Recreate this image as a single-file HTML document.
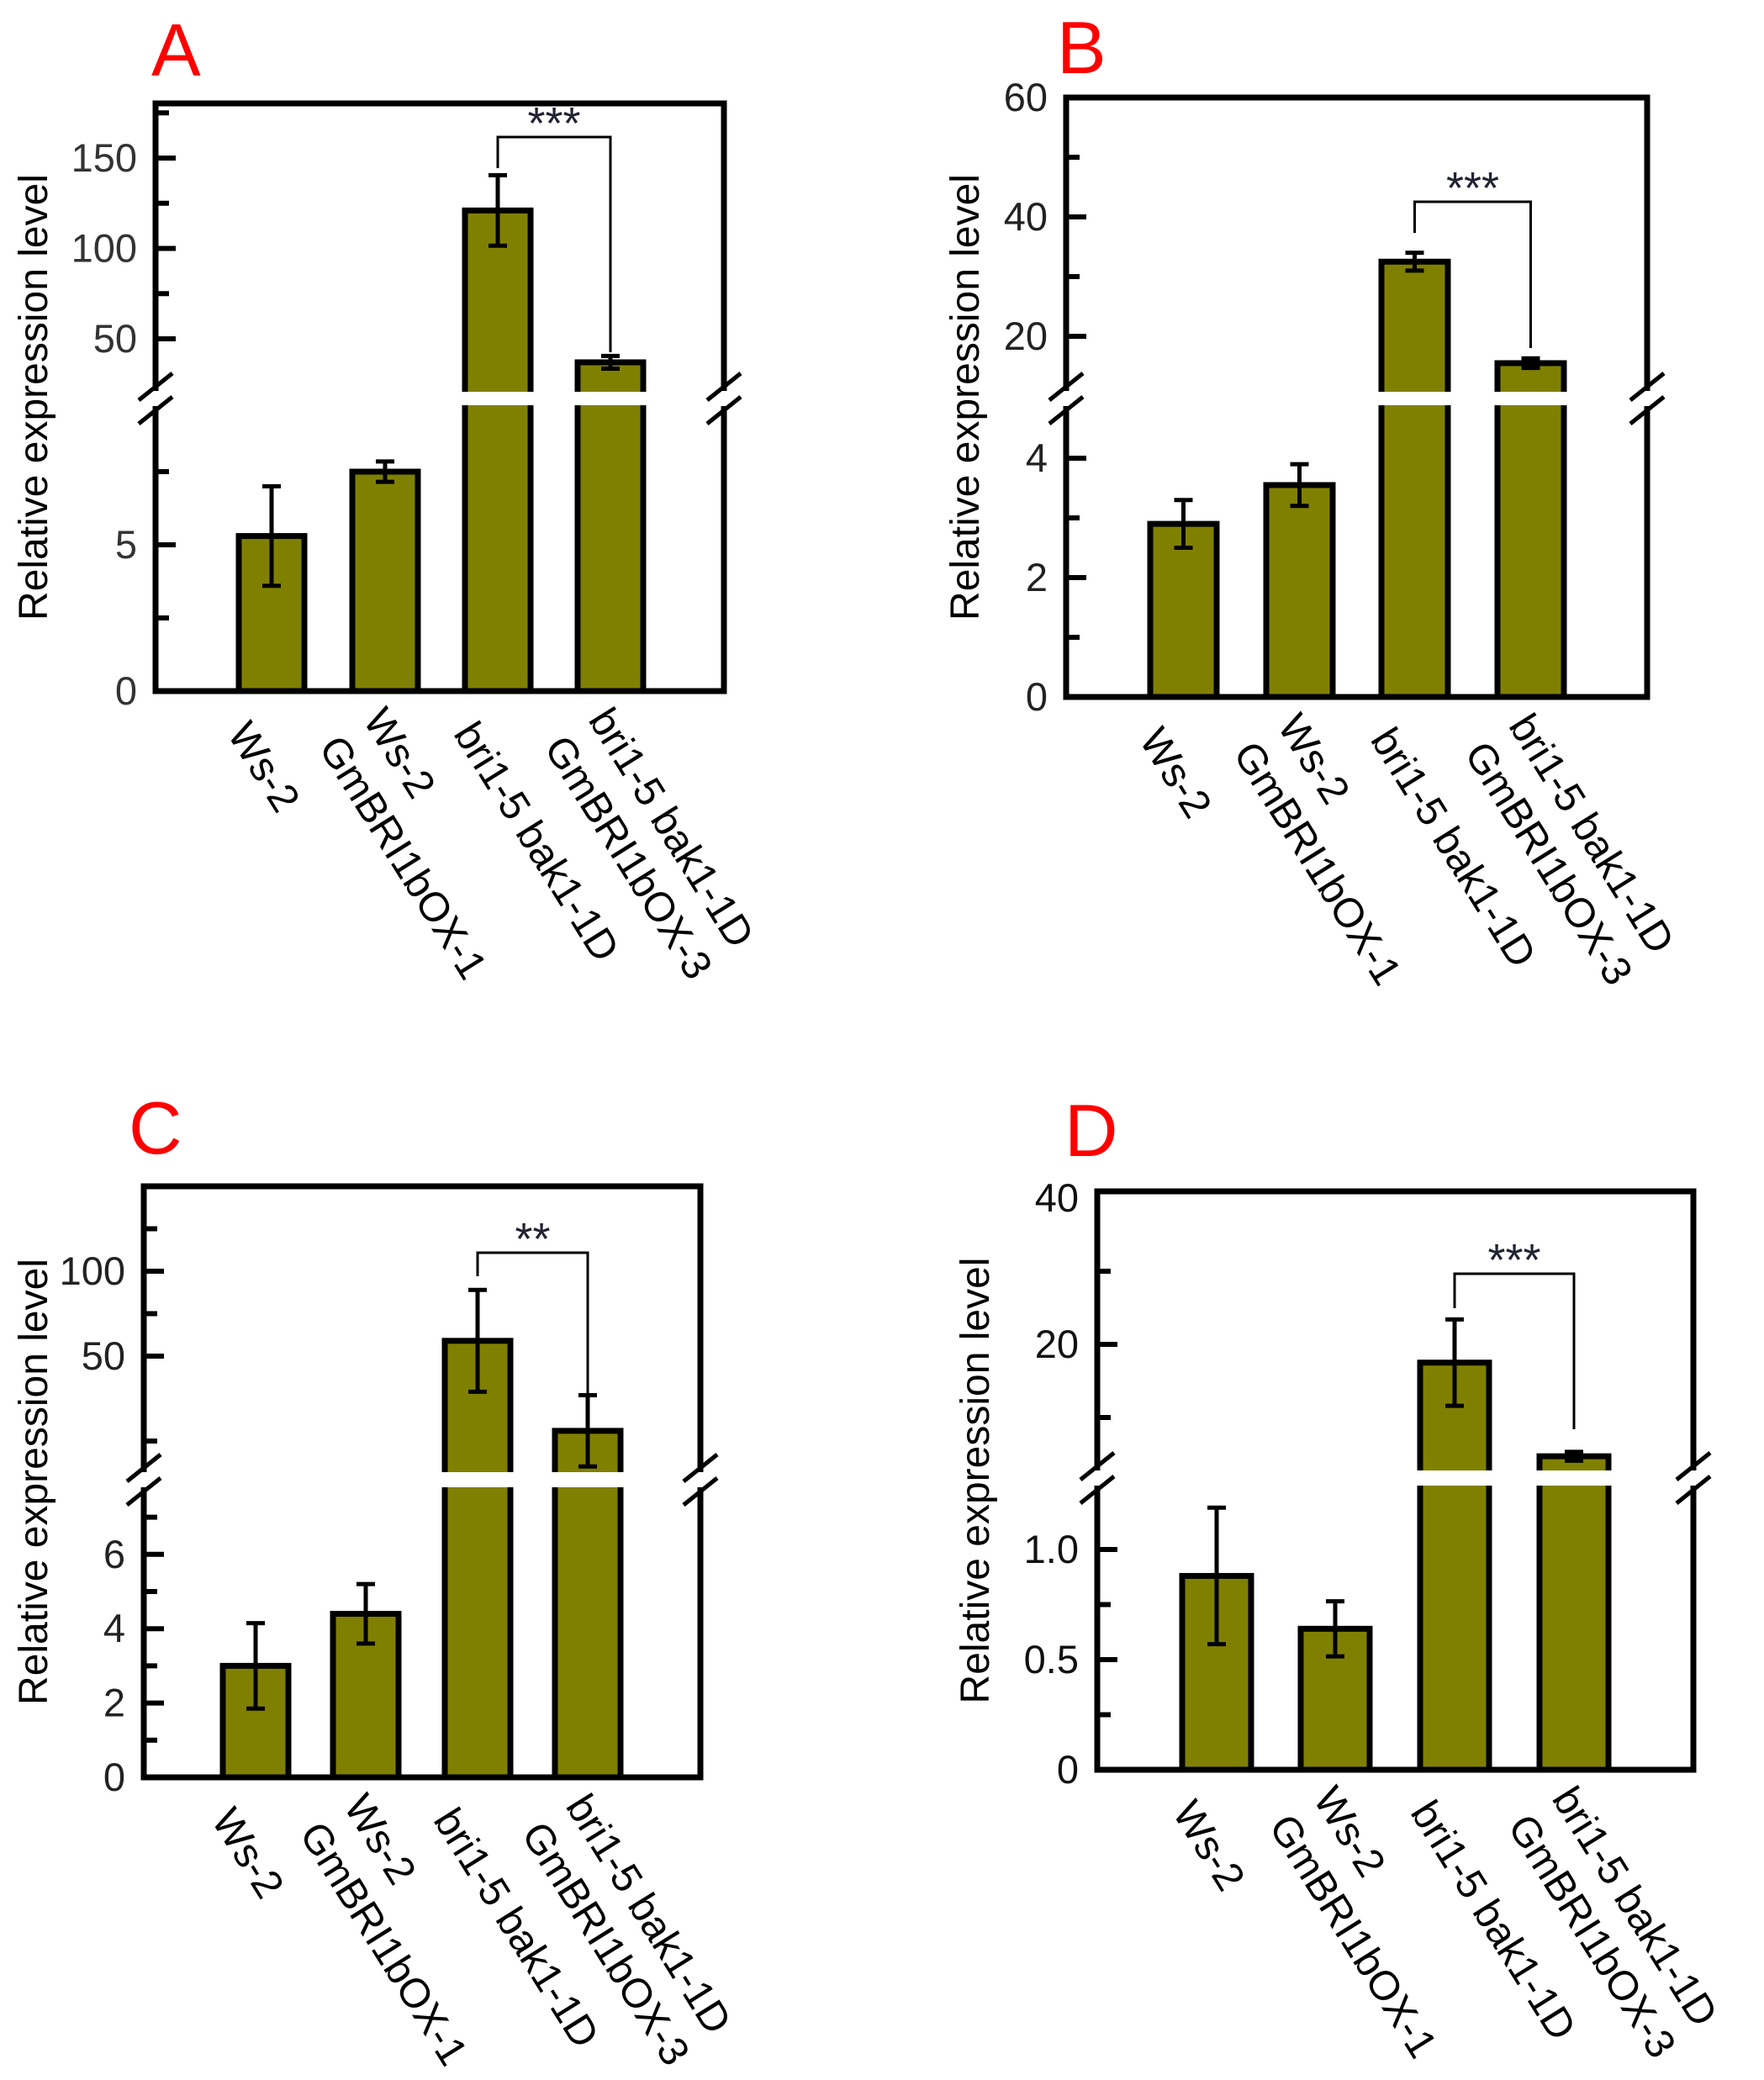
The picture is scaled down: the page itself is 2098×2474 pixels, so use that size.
<!DOCTYPE html>
<html><head><meta charset="utf-8">
<style>
html,body{margin:0;padding:0;background:#fff;}
svg{display:block;font-family:"Liberation Sans",Arial,sans-serif;}
</style></head>
<body>
<svg id="fig" width="2098" height="2474" viewBox="0 0 2098 2474" xmlns="http://www.w3.org/2000/svg"></svg>
<script>
const categories = [["Ws-2"],["Ws-2","GmBRI1bOX-1"],["bri1-5 bak1-1D"],["bri1-5 bak1-1D","GmBRI1bOX-3"]];
// Panel A
const valuesA = [5.3, 7.5, 121, 37];
const errorsA = [1.7, 0.35, 19.5, 3.5];
const lowTicksA = [0, 5]; const lowMinorA = [2.5, 7.5];
const upTicksA = [50, 100, 150]; const upMinorA = [75, 125, 175];
// Panel B
const valuesB = [2.9, 3.55, 32.5, 15.5];
const errorsB = [0.4, 0.35, 1.5, 0.8];
const lowTicksB = [0, 2, 4]; const lowMinorB = [1, 3];
const upTicksB = [20, 40, 60]; const upMinorB = [30, 50];
// Panel C
const valuesC = [3.0, 4.4, 59, 6];
const errorsC = [1.15, 0.8, 30, 21];
const lowTicksC = [0, 2, 4, 6]; const lowMinorC = [1, 3, 5, 7];
const upTicksC = [50, 100]; const upMinorC = [0, 75, 125];
// Panel D
const valuesD = [0.88, 0.64, 17.5, 4.7];
const errorsD = [0.31, 0.125, 5.9, 0.6];
const lowTicksD = [0, 0.5, 1.0]; const lowMinorD = [0.25, 0.75];
const upTicksD = [20, 40]; const upMinorD = [10, 30];
const lowLabelsD = ["0", "0.5", "1.0"];

const NS = "http://www.w3.org/2000/svg";
const svg = document.getElementById("fig");
function mk(tag, attrs, parent) {
  const e = document.createElementNS(NS, tag);
  for (const k in attrs) e.setAttribute(k, attrs[k]);
  (parent || svg).appendChild(e);
  return e;
}

const panels = [
  {id:"a", letter:"A", lx:180, ly:90, vals:valuesA, errs:errorsA, L:185, R:861, T:123, B:822,
   y0:822, k:34.8, uref:50, upx:403, uk:2.15, brk:474, gapT:466, gapB:482,
   lt:lowTicksA, lm:lowMinorA, ut:upTicksA, um:upMinorA, bars:[281,416,550,684], bw:84,
   brY:163, brL:200, brR:419, titleX:40, tickCol:"#333"},
  {id:"b", letter:"B", lx:1257, ly:87, vals:valuesB, errs:errorsB, L:1268, R:1959, T:116, B:829,
   y0:829, k:71, uref:20, upx:400, uk:7.1, brk:474, gapT:466, gapB:482,
   lt:lowTicksB, lm:lowMinorB, ut:upTicksB, um:upMinorB, bars:[1365,1503,1640,1778], bw:85,
   brY:240, brL:277, brR:414, titleX:1148, tickCol:"#222"},
  {id:"c", letter:"C", lx:153, ly:1372, vals:valuesC, errs:errorsC, L:171, R:833, T:1411, B:2114,
   y0:2114, k:44.2, uref:50, upx:1613, uk:2.02, brk:1760, gapT:1751, gapB:1769,
   lt:lowTicksC, lm:lowMinorC, ut:upTicksC, um:upMinorC, bars:[262,393,526,657], bw:84,
   brY:1490, brL:1518, brR:1659, titleX:40, tickCol:"#222"},
  {id:"d", letter:"D", lx:1266, ly:1375, vals:valuesD, errs:errorsD, L:1305, R:2014, T:1417, B:2105,
   y0:2105, k:262, uref:20, upx:1599, uk:8.7, brk:1758, gapT:1749, gapB:1767,
   lt:lowTicksD, lm:lowMinorD, ut:upTicksD, um:upMinorD, ll:lowLabelsD, bars:[1403,1544,1686,1828], bw:88,
   brY:1515, brL:1556, brR:1700, titleX:1160, tickCol:"#111"}
];

panels.forEach(p => {
  const g = mk("g", {});
  
  
  const yLow = v => p.y0 - v * p.k;
  const yUp = v => p.upx - (v - p.uref) * p.uk;
  const isHigh = i => i >= 2;

  const letter = mk("text", {x:p.lx, y:p.ly, fill:"#ff0000", "font-size":88}, g);
  letter.textContent = p.letter;
  
  

  p.vals.forEach((v, i) => {
    const x = p.bars[i];
    const top = isHigh(i) ? yUp(v) : yLow(v);
    const bar = mk("rect", {x:x+3, y:top, width:p.bw-6, height:p.B-top, fill:"#808000", stroke:"#000", "stroke-width":7}, g);
    
    
    if (isHigh(i)) {
      const gap = mk("rect", {x:x-2, y:p.gapT, width:p.bw+4, height:p.gapB-p.gapT, fill:"#fff"}, g);
      
      
    }
    const cx = x + p.bw/2;
    const f = isHigh(i) ? yUp : yLow;
    let yt = f(v + p.errs[i]), yb = f(v - p.errs[i]);
    const eg = mk("g", {stroke:"#000", "stroke-width":5}, g);
    
    
    const lim = isHigh(i) ? p.gapT : p.B;
    const ybc = Math.min(yb, lim);
    mk("line", {x1:cx, y1:yt, x2:cx, y2:ybc}, eg);
    mk("line", {x1:cx-11, y1:yt, x2:cx+11, y2:yt}, eg);
    if (yb <= lim) mk("line", {x1:cx-11, y1:yb, x2:cx+11, y2:yb}, eg);
  });

  const fr = mk("rect", {x:p.L, y:p.T, width:p.R-p.L, height:p.B-p.T, fill:"none", stroke:"#000", "stroke-width":7}, g);
  
  

  const tg = mk("g", {stroke:"#000", "stroke-width":6}, g);
  
  
  const lab = (y, txt) => {
    const t = mk("text", {x:p.L-22, y:y+16, "text-anchor":"end", "font-size":47, fill:p.tickCol}, g);
    t.textContent = txt;
    
    
  };
  p.lt.forEach((v, j) => { const y = yLow(v); if (v>0) mk("line", {x1:p.L, y1:y, x2:p.L+24, y2:y}, tg); lab(y, p.ll ? p.ll[j] : String(v)); });
  p.lm.forEach(v => { const y = yLow(v); mk("line", {x1:p.L, y1:y, x2:p.L+16, y2:y}, tg); });
  p.ut.forEach(v => { const y = yUp(v); if (y > p.T+12) mk("line", {x1:p.L, y1:y, x2:p.L+24, y2:y}, tg); lab(y, String(v)); });
  p.um.forEach(v => { const y = yUp(v); if (y > p.T+5 && y < p.brk-15) mk("line", {x1:p.L, y1:y, x2:p.L+16, y2:y}, tg); });

  [p.L, p.R].forEach(ax => {
    const bg = mk("g", {}, g);
    
    
    mk("rect", {x:ax-6, y:p.brk-9, width:12, height:18, fill:"#fff"}, bg);
    mk("line", {x1:ax-20, y1:p.brk+2, x2:ax+20, y2:p.brk-30, stroke:"#000", "stroke-width":5}, bg);
    mk("line", {x1:ax-20, y1:p.brk+30, x2:ax+20, y2:p.brk-2, stroke:"#000", "stroke-width":5}, bg);
  });

  const c3 = p.bars[2] + p.bw/2, c4 = p.bars[3] + p.bw/2;
  const br = mk("path", {d:`M${c3},${p.brL} L${c3},${p.brY} L${c4},${p.brY} L${c4},${p.brR}`, fill:"none", stroke:"#000", "stroke-width":3}, g);
  
  
  const st = mk("text", {x:(c3+c4)/2, y:p.brY+2, "text-anchor":"middle", "font-size":54, fill:"#223"}, g);
  st.textContent = p.id === "c" ? "**" : "***";
  
  

  const ym = (p.T + p.B) / 2;
  const yt = mk("text", {x:0, y:0, "text-anchor":"middle", "font-size":48, fill:"#000", transform:`translate(${p.titleX+16},${ym}) rotate(-90)`}, g);
  yt.textContent = "Relative expression level";
  
  

  categories.forEach((lines, i) => {
    const cx = p.bars[i] + p.bw/2;
    const xg = mk("g", {transform:`translate(${cx-40},${p.B+42}) rotate(58)`}, g);
    
    
    const n = lines.length, lh = 62;
    lines.forEach((s, j) => {
      const t = mk("text", {x:0, y:(j-(n-1)/2)*lh + 16, "font-size":49, fill:"#000"}, xg);
      t.textContent = s;
    });
  });
});
</script>
</body></html>
